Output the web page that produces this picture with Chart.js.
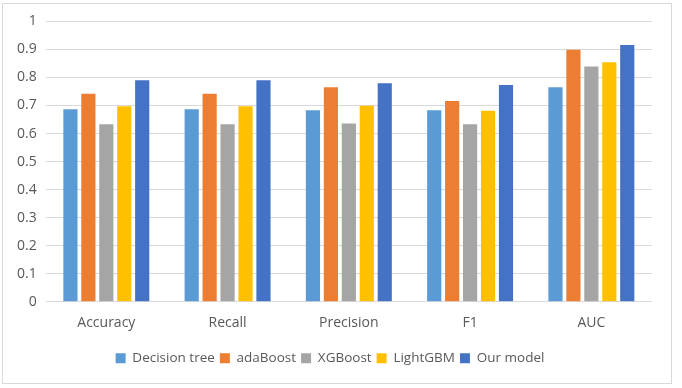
<!DOCTYPE html>
<html>
<head>
<meta charset="utf-8">
<script src="https://cdn.jsdelivr.net/npm/chart.js@4/dist/chart.umd.min.js"></script>
<style>
  html, body { margin: 0; padding: 0; background: #fff; }
  #wrap { position: absolute; left: 2px; top: 3px; width: 668px; height: 379px; border: 1px solid #d9d9d9; }
  canvas { display: block; }
</style>
</head>
<body>
<div id="wrap"><canvas id="c"></canvas></div>
<script>
// metric scores per model
const categories = ["Accuracy", "Recall", "Precision", "F1", "AUC"];
const models = ["Decision tree", "adaBoost", "XGBoost", "LightGBM", "Our model"];
const decisionTree = [0.687, 0.687, 0.683, 0.683, 0.765];
const adaBoost = [0.742, 0.742, 0.765, 0.716, 0.899];
const xgBoost = [0.633, 0.633, 0.636, 0.633, 0.839];
const lightGBM = [0.697, 0.697, 0.699, 0.681, 0.854];
const ourModel = [0.790, 0.790, 0.779, 0.773, 0.916];
const yTicks = [0, 0.1, 0.2, 0.3, 0.4, 0.5, 0.6, 0.7, 0.8, 0.9, 1];

const colors = ["#5B9BD5", "#ED7D31", "#A5A5A5", "#FFC000", "#4472C4"];
const series = [decisionTree, adaBoost, xgBoost, lightGBM, ourModel];

const font = { family: "'Open Sans', 'Liberation Sans', sans-serif", size: 14 };
const text = "#595959";

new Chart(document.getElementById("c"), {
  type: "bar",
  data: {
    labels: categories,
    datasets: series.map((d, i) => ({
      label: models[i],
      data: d,
      backgroundColor: colors[i],
      borderWidth: 0,
      barPercentage: 0.79,
      categoryPercentage: 0.74,
    })),
  },
  options: {
    responsive: true,
    maintainAspectRatio: false,
    animation: false,
    layout: { padding: { left: 5, right: 19, top: 10, bottom: 8 } },
    plugins: {
      tooltip: { enabled: false },
      legend: {
        position: "bottom",
        labels: { color: text, font: { ...font, size: 13.5 }, boxWidth: 10, boxHeight: 10, padding: 5 },
      },
    },
    scales: {
      x: {
        grid: { display: false },
        border: { display: false },
        ticks: { color: text, font, padding: 5 },
        afterFit: (s) => { s.height += 10; },
      },
      y: {
        min: 0,
        max: 1,
        afterBuildTicks: (ax) => { ax.ticks = yTicks.map((v) => ({ value: v })); },
        grid: { color: "#d9d9d9", lineWidth: 1, drawTicks: false },
        border: { display: false },
        ticks: { color: text, font, padding: 9, callback: (v) => String(v) },
      },
    },
  },
});
</script>
</body>
</html>
